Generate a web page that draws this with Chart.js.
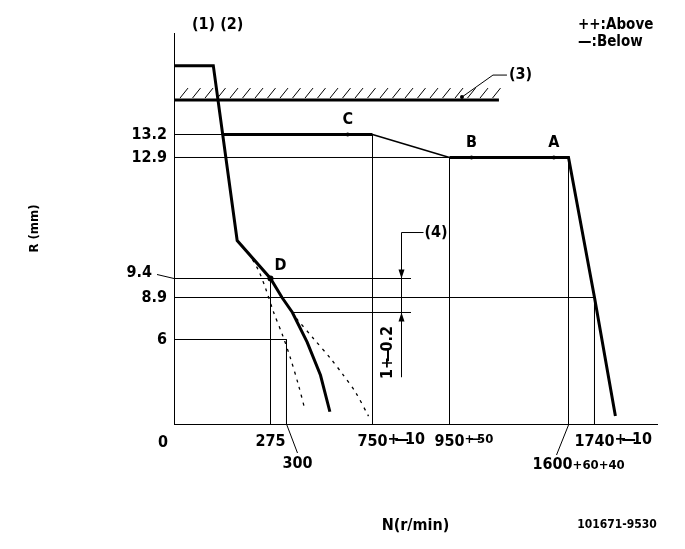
<!DOCTYPE html>
<html>
<head>
<meta charset="utf-8">
<script src="https://cdn.jsdelivr.net/npm/chart.js@4.4.1/dist/chart.umd.min.js"></script>
<style>
  html, body { margin: 0; padding: 0; background: #fff; }
  #wrap { width: 685px; height: 549px; }
</style>
</head>
<body>
<div id="wrap"><canvas id="chart" width="685" height="549"></canvas></div>
<script>
// --- data (N in r/min, R in mm) ---
// full load / stop curve on the left
const fullN = [0, 112, 180, 275, 293, 331, 408, 478, 527];
const fullR = [15.1, 15.1, 10.5, 9.4, 8.9, 8.4, 5.81, 3.46, 0.87];
// rack 13.2 line
const ratedN = [140, 750];
const ratedR = [13.2, 13.2];
// 750 -> 950 transition
const slopeN = [750, 950];
const slopeR = [13.2, 12.9];
// 12.9 line and high speed cut
const highN = [950, 1600, 1740, 1857];
const highR = [12.9, 12.9, 8.9, 0.56];
// dashed limit curves
const lowLimN = [212, 241, 261, 280, 294, 321, 363, 394];
const lowLimR = [10.15, 9.63, 9.14, 8.4, 6.36, 4.66, 2.75, 1.15];
const highLimN = [352, 441, 530, 598, 661, 729];
const highLimR = [7.87, 6.09, 4.66, 3.46, 2.26, 0.56];
// stop line (3)
const stopN = [0, 1220];
const stopR = [14.15, 14.15];
// check points
const markName = ['A', 'B', 'C', 'D'];
const markN = [1520, 1070, 620, 275];
const markR = [12.9, 12.9, 13.2, 9.4];
// guide lines
const guideR = [13.2, 12.9, 9.4, 8.9, 8.4, 6];
const guideFromN = [0, 0, 0, 0, 331, 0];
const guideToN = [750, 1600, 850, 1740, 850, 300];
const dropN = [275, 300, 750, 950, 1600, 1740];
const dropTopR = [9.4, 6, 13.2, 12.9, 12.9, 8.9];
// tick labels
const xTickN = [275, 750, 950, 1740];
const xTickMain = ['275', '750', '950', '1740'];
const xTickSuffix = ['', '+—10', '+—50', '+—10'];
const yTickR = [6, 8.9, 12.9, 13.2];
const yTickText = ['6', '8.9', '12.9', '13.2'];

// the drawing is not to scale: piecewise axis between labelled values
const axisBreaks = {
  x: { v: [0, 275, 300, 750, 950, 1600, 1740, 2090],
       at: [0, 0.1998, 0.2329, 0.4110, 0.5704, 0.8168, 0.8706, 1] },
  y: { v: [0, 6, 8.4, 8.9, 9.4, 12.9, 13.2, 16],
       at: [0, 0.2161, 0.2852, 0.3235, 0.3721, 0.6816, 0.7404, 1] }
};

function piece(v, from, to) {
  let i = 1;
  while (i < from.length - 1 && v > from[i]) i++;
  return to[i - 1] + (v - from[i - 1]) / (from[i] - from[i - 1]) * (to[i] - to[i - 1]);
}

class BrokenScale extends Chart.LinearScale {
  static id = 'broken';
  getPixelForValue(value) {
    if (value === null || isNaN(value)) return NaN;
    const b = axisBreaks[this.axis];
    return this.getPixelForDecimal(piece(value, b.v, b.at));
  }
  getValueForPixel(pixel) {
    const b = axisBreaks[this.axis];
    return piece(this.getDecimalForPixel(pixel), b.at, b.v);
  }
}
Chart.register(BrokenScale);

const FAMILY = '"DejaVu Sans Condensed", "DejaVu Sans", sans-serif';
const font = (size) => 'bold ' + size + 'px ' + FAMILY;

// text where "+—" is drawn as one tight tolerance mark
const squeeze = (ch) => (ch === '+' ? 5 : ch === '—' ? 4 : 0);
function tightWidth(ctx, str) {
  let w = 0;
  for (const ch of str) w += ctx.measureText(ch).width - squeeze(ch);
  return w;
}
function fillTight(ctx, str, x, y) {
  ctx.textAlign = 'left';
  for (const ch of str) {
    ctx.fillText(ch, x, y);
    x += ctx.measureText(ch).width - squeeze(ch);
  }
}

const pts = (xs, ys) => xs.map((v, i) => ({ x: v, y: ys[i] }));
const curve = (data, width, more) => Object.assign({
  data, showLine: true, borderColor: '#000', backgroundColor: '#000',
  borderWidth: width, pointRadius: 0, fill: false
}, more);

// labels, leaders and the small dimension marks
const drawingNotes = {
  id: 'drawingNotes',
  afterDatasetsDraw(chart) {
    const { ctx, scales: { x, y } } = chart;
    const px = (n) => x.getPixelForValue(n);
    const py = (r) => y.getPixelForValue(r);
    ctx.save();
    ctx.strokeStyle = '#000';
    ctx.fillStyle = '#000';
    ctx.lineWidth = 1;
    ctx.textBaseline = 'middle';

    // hatching above stop line
    const ys = py(stopR[0]);
    ctx.beginPath();
    for (let hx = px(stopN[0]) + 6; hx < px(stopN[1]) - 4; hx += 12.5) {
      ctx.moveTo(hx, ys - 2);
      ctx.lineTo(hx + 8, ys - 12);
    }
    ctx.stroke();

    // (3) leader
    const lx = px(1018);
    ctx.beginPath();
    ctx.arc(lx, ys - 3, 2, 0, Math.PI * 2);
    ctx.fill();
    ctx.beginPath();
    ctx.moveTo(lx, ys - 3);
    ctx.lineTo(lx + 31, ys - 25);
    ctx.lineTo(lx + 45, ys - 25);
    ctx.stroke();
    ctx.font = font(16);
    ctx.textAlign = 'left';
    ctx.fillText('(3)', lx + 47, ys - 25);

    // check point letters
    markName.forEach((m, i) => {
      const mx = px(markN[i]), my = py(markR[i]);
      if (m === 'D') {
        ctx.textAlign = 'left';
        ctx.fillText(m, mx + 4, my - 13);
      } else {
        ctx.textAlign = 'center';
        ctx.fillText(m, mx, my - 15);
      }
    });

    // x label suffixes (tolerances)
    const tickFont = font(16);
    xTickN.forEach((n, i) => {
      if (!xTickSuffix[i]) return;
      ctx.font = tickFont;
      const w = ctx.measureText(xTickMain[i]).width;
      ctx.font = n === 950 ? font(13) : tickFont;
      fillTight(ctx, xTickSuffix[i], px(n) + w / 2, y.bottom + 16);
    });

    // 9.4 with leader
    const y94 = py(9.4);
    ctx.font = tickFont;
    ctx.textAlign = 'right';
    ctx.fillText('9.4', x.left - 22, y94 - 6);
    ctx.beginPath();
    ctx.moveTo(x.left - 17, y94 - 4);
    ctx.lineTo(x.left, y94);
    ctx.stroke();

    // origin
    ctx.textAlign = 'center';
    ctx.fillText('0', x.left - 11, y.bottom + 19);

    // 300 with leader
    const x300 = px(300);
    ctx.beginPath();
    ctx.moveTo(x300, y.bottom);
    ctx.lineTo(x300 + 11, y.bottom + 29);
    ctx.stroke();
    ctx.fillText('300', x300 + 11, y.bottom + 40);

    // 1600+60+40 with leader
    const x1600 = px(1600);
    ctx.beginPath();
    ctx.moveTo(x1600, y.bottom + 1);
    ctx.lineTo(x1600 - 12, y.bottom + 31);
    ctx.stroke();
    ctx.textAlign = 'left';
    ctx.fillText('1600', x1600 - 36, y.bottom + 41);
    const w1600 = ctx.measureText('1600').width;
    ctx.font = font(13);
    ctx.fillText('+60+40', x1600 - 36 + w1600, y.bottom + 42);

    // dimension (4): 1+-0.2 between 9.4 and 8.4
    const dx = Math.round(px(825)) + 0.5;
    const top = py(10.73), bot = py(3.32);
    const tipA = py(9.4), tipB = py(8.4);
    ctx.beginPath();
    ctx.moveTo(dx, bot);
    ctx.lineTo(dx, top);
    ctx.lineTo(dx + 22, top);
    ctx.stroke();
    ctx.beginPath();
    ctx.moveTo(dx, tipA); ctx.lineTo(dx - 3, tipA - 9); ctx.lineTo(dx + 3, tipA - 9); ctx.closePath();
    ctx.moveTo(dx, tipB); ctx.lineTo(dx - 3, tipB + 9); ctx.lineTo(dx + 3, tipB + 9); ctx.closePath();
    ctx.fill();
    ctx.font = font(16);
    ctx.textAlign = 'left';
    ctx.fillText('(4)', dx + 23, top);
    ctx.save();
    ctx.translate(dx - 14, tipB + 40);
    ctx.rotate(-Math.PI / 2);
    const tw = tightWidth(ctx, '1+—0.2');
    fillTight(ctx, '1+—0.2', -tw / 2, 0);
    ctx.restore();

    // header notes
    ctx.font = font(16);
    ctx.textAlign = 'left';
    ctx.fillText('(1) (2)', x.left + 18, 25);
    ctx.font = font(15);
    ctx.fillText('++:Above', 578, 25);
    ctx.fillText('—:Below', 578, 42);
    ctx.font = font(12);
    ctx.textAlign = 'center';
    ctx.fillText('101671-9530', 617, 525);
    ctx.restore();
  }
};

const datasets = [
  curve(pts(markN, markR), 0, { showLine: false, pointRadius: [2, 2, 2, 3] }),
  curve(pts(fullN, fullR), 3),
  curve(pts(ratedN, ratedR), 3),
  curve(pts(slopeN, slopeR), 1.5),
  curve(pts(highN, highR), 3),
  curve(pts(stopN, stopR), 3),
  curve(pts(lowLimN, lowLimR), 1.3, { borderDash: [3, 5], tension: 0.3 }),
  curve(pts(highLimN, highLimR), 1.3, { borderDash: [3, 5], tension: 0.3 }),
  ...guideR.map((r, i) => curve(pts([guideFromN[i], guideToN[i]], [r, r]), 1)),
  ...dropN.map((n, i) => curve(pts([n, n], [dropTopR[i], 0]), 1))
];

new Chart(document.getElementById('chart'), {
  type: 'scatter',
  data: { datasets },
  options: {
    responsive: false,
    devicePixelRatio: 1,
    animation: false,
    events: [],
    layout: { padding: { top: 33, right: 28, left: 0, bottom: 0 } },
    plugins: { legend: { display: false }, tooltip: { enabled: false } },
    scales: {
      x: {
        type: 'broken',
        min: 0,
        max: 2090,
        grid: { display: false, drawTicks: false },
        border: { display: true, color: '#000', width: 1 },
        ticks: {
          color: '#000', font: { family: FAMILY, size: 16, weight: 'bold' },
          padding: 8, autoSkip: false, minRotation: 0, maxRotation: 0,
          callback: (v, i) => xTickMain[i]
        },
        afterBuildTicks: (s) => { s.ticks = xTickN.map(v => ({ value: v })); },
        afterFit: (s) => { s.height = 125; },
        title: {
          display: true, text: 'N(r/min)', color: '#000',
          font: { family: FAMILY, size: 16, weight: 'bold' },
          padding: { top: 0, bottom: 14 }
        }
      },
      y: {
        type: 'broken',
        min: 0,
        max: 16,
        grid: { display: false, drawTicks: false },
        border: { display: true, color: '#000', width: 1 },
        ticks: {
          color: '#000', font: { family: FAMILY, size: 16, weight: 'bold' },
          padding: 7, autoSkip: false,
          callback: (v, i) => yTickText[i]
        },
        afterBuildTicks: (s) => { s.ticks = yTickR.map(v => ({ value: v })); },
        afterFit: (s) => { s.width = 174; },
        title: {
          display: true, text: 'R (mm)', color: '#000',
          font: { family: FAMILY, size: 13, weight: 'bold' },
          padding: { top: 27, bottom: 0 }
        }
      }
    }
  },
  plugins: [drawingNotes]
});
</script>
</body>
</html>
